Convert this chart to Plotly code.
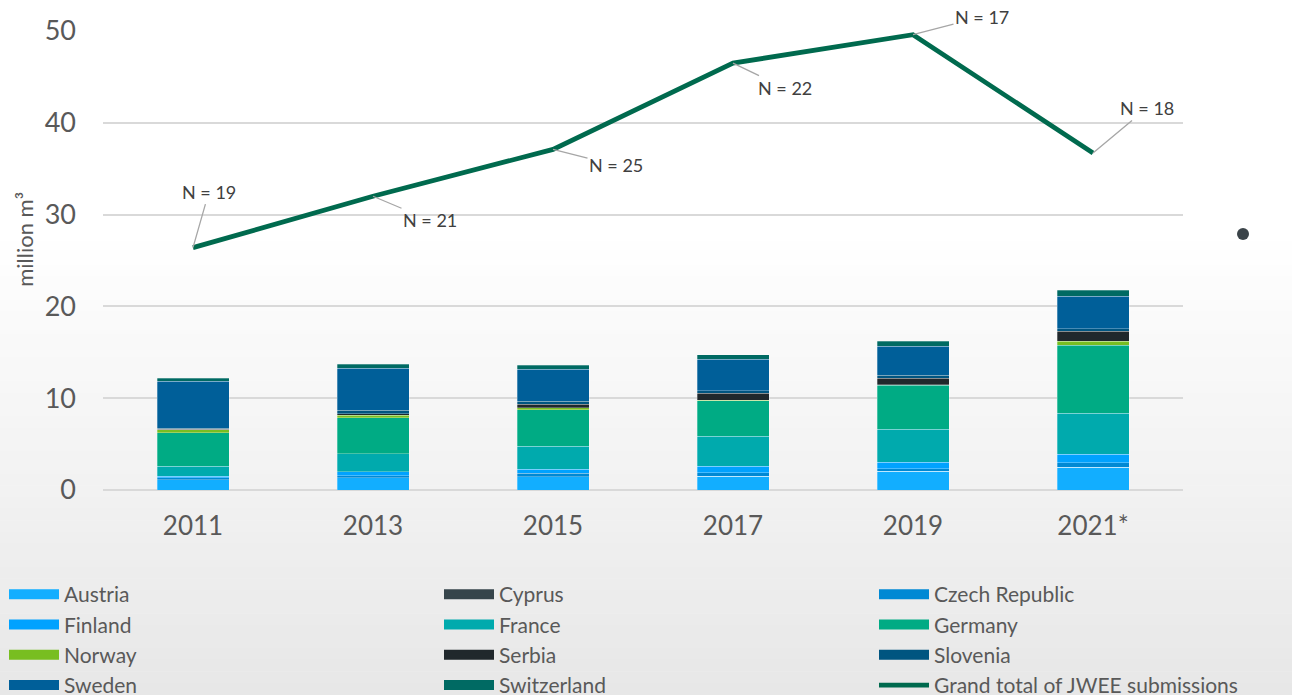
import plotly.graph_objects as go

# ---------------- data ----------------
years = ['2011', '2013', '2015', '2017', '2019', '2021*']
countries = ['Austria', 'Cyprus', 'Czech Republic', 'Finland', 'France', 'Germany',
             'Norway', 'Serbia', 'Slovenia', 'Sweden', 'Switzerland']
austria = [1.10, 1.34, 1.45, 1.52, 2.03, 2.47]
cyprus = [0.0, 0.0, 0.0, 0.0, 0.0, 0.0]
czech = [0.22, 0.22, 0.36, 0.36, 0.29, 0.51]
finland = [0.18, 0.44, 0.47, 0.69, 0.69, 0.94]
france = [1.09, 1.93, 2.50, 3.27, 3.63, 4.43]
germany = [3.67, 3.92, 3.96, 3.89, 4.79, 7.41]
norway = [0.29, 0.29, 0.22, 0.03, 0.03, 0.44]
serbia = [0.05, 0.18, 0.36, 0.76, 0.73, 1.09]
slovenia = [0.10, 0.36, 0.36, 0.29, 0.29, 0.29]
sweden = [5.12, 4.58, 3.45, 3.41, 3.19, 3.52]
switzerland = [0.33, 0.44, 0.44, 0.51, 0.54, 0.65]
grand_total = [26.4, 32.0, 37.1, 46.5, 49.6, 36.7]
n_submissions = [19, 21, 25, 22, 17, 18]

series = [austria, cyprus, czech, finland, france, germany,
          norway, serbia, slovenia, sweden, switzerland]
colors = ['#12AEFF', '#36454B', '#0089D4', '#00A2FF', '#00AAAD', '#00AB84',
          '#78BE21', '#20282C', '#005580', '#005F99', '#006A63']
line_color = '#006A4E'
legend_of = ['legend', 'legend2', 'legend3', 'legend', 'legend2', 'legend3',
             'legend', 'legend2', 'legend3', 'legend', 'legend2']

# label offsets in pixels (dx, dy) for N labels
label_offsets = [(16, -56), (57, 24), (63, 16), (52, 25), (69, -18), (54, -45)]

FONT = 'Lato, Open Sans, sans-serif'
TXT = '#595959'

fig = go.Figure()

for name, vals, col, lg in zip(countries, series, colors, legend_of):
    fig.add_trace(go.Bar(
        x=years, y=vals, name=name, marker_color=col,
        marker_line=dict(color='rgba(255,255,255,0.35)', width=0.8),
        showlegend=False,
    ))
    # legend swatch (wide rectangle look)
    fig.add_trace(go.Scatter(
        x=[years[0]], y=[None], mode='lines', name=name,
        line=dict(color=col, width=10), legend=lg, showlegend=True,
        hoverinfo='skip',
    ))

fig.add_trace(go.Scatter(
    x=years, y=grand_total, mode='lines', name='Grand total of JWEE submissions',
    line=dict(color=line_color, width=4.8), legend='legend3',
))

annotations = []
for i, (tot, n, (dx, dy)) in enumerate(zip(grand_total, n_submissions, label_offsets)):
    annotations.append(dict(
        x=i, y=tot, xref='x', yref='y', text=f'N = {n}',
        showarrow=True, arrowhead=0, arrowwidth=1.3, arrowcolor='#A6A6A6',
        ax=dx, ay=dy, standoff=0, startstandoff=0,
        font=dict(family=FONT, size=18, color='#404040'),
    ))

# y-axis title
annotations.append(dict(
    x=-0.0722, y=0.545, xref='paper', yref='paper', text='million m³',
    xanchor='center', yanchor='middle',
    showarrow=False, textangle=-90, font=dict(family=FONT, size=22, color=TXT),
))

# background gradient
shapes = []
top_px, bot_px = 230, 695
nsteps = 40
H = 459.0
for i in range(nsteps):
    y0p = top_px + (bot_px - top_px) * i / nsteps
    y1p = top_px + (bot_px - top_px) * (i + 1) / nsteps
    t = (i + 0.5) / nsteps
    g = int(round(255 - (255 - 231) * t))
    shapes.append(dict(
        type='rect', xref='paper', yref='paper', layer='below',
        x0=-0.2, x1=1.2, y0=(490 - y1p) / H, y1=(490 - y0p) / H + 0.001,
        fillcolor=f'rgb({g},{g},{g})', line=dict(width=0),
    ))
# stray bullet dot
cx, cy, r = (1243 - 103) / 1080, (490 - 234) / H, 6
shapes.append(dict(
    type='circle', xref='paper', yref='paper',
    x0=cx - r / 1080, x1=cx + r / 1080, y0=cy - r / H, y1=cy + r / H,
    fillcolor='#3B4449', line=dict(width=0),
))

legend_common = dict(
    orientation='v', yanchor='top', xanchor='left', y=(490 - 574) / H,
    font=dict(family=FONT, size=21, color=TXT), bgcolor='rgba(0,0,0,0)',
    traceorder='normal', itemwidth=50, tracegroupgap=0,
)

fig.update_layout(
    width=1292, height=695,
    margin=dict(l=103, r=109, t=31, b=205, autoexpand=False),
    paper_bgcolor='white', plot_bgcolor='rgba(0,0,0,0)',
    barmode='stack', bargap=0.6,
    font=dict(family=FONT, color=TXT),
    xaxis=dict(type='category', categoryorder='array', categoryarray=years,
               range=[-0.5, len(years) - 0.5], autorange=False,
               tickfont=dict(size=26, color=TXT),
               showgrid=False, ticks='', ticklabelstandoff=18, fixedrange=True),
    yaxis=dict(range=[0, 50], dtick=10, tickfont=dict(size=27, color=TXT),
               showgrid=True, gridcolor='#D9D9D9', gridwidth=1.5,
               zeroline=True, zerolinecolor='#D9D9D9', zerolinewidth=1.5,
               ticks='', ticklabelstandoff=26),
    legend=dict(legend_common, x=(4 - 103) / 1080),
    legend2=dict(legend_common, x=(439 - 103) / 1080),
    legend3=dict(legend_common, x=(874 - 103) / 1080),
    annotations=annotations,
    shapes=shapes,
)

fig.write_html('out.html')
